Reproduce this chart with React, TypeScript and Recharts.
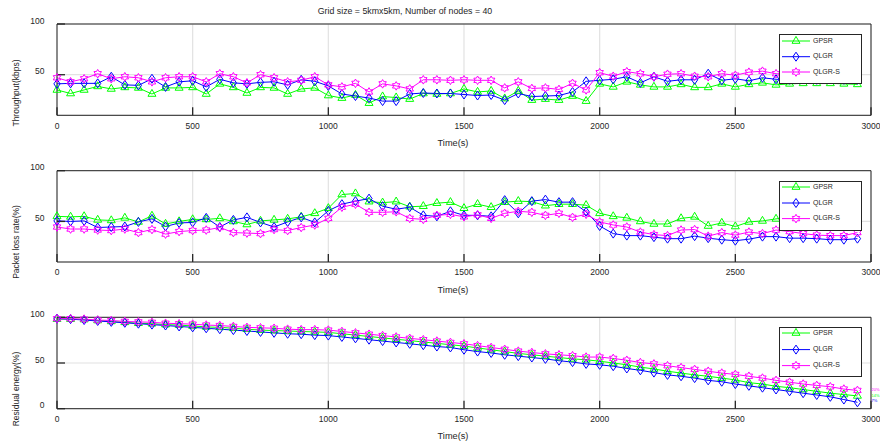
import React from 'react';
import { LineChart, Line, XAxis, YAxis, CartesianGrid } from 'recharts';

const FONT = '"Liberation Sans", Arial, Helvetica, sans-serif';
const TXT = '#262626';

const times = [
  0, 50, 100, 150, 200, 250, 300, 350, 400, 450,
  500, 550, 600, 650, 700, 750, 800, 850, 900, 950,
  1000, 1050, 1100, 1150, 1200, 1250, 1300, 1350, 1400, 1450,
  1500, 1550, 1600, 1650, 1700, 1750, 1800, 1850, 1900, 1950,
  2000, 2050, 2100, 2150, 2200, 2250, 2300, 2350, 2400, 2450,
  2500, 2550, 2600, 2650, 2700, 2750, 2800, 2850, 2900, 2950,
];

const xTicks = [0, 500, 1000, 1500, 2000, 2500, 3000];
const yTicksTop = [50, 100];
const yTicksBottom = [0, 50, 100];

const seriesNames = ['GPSR', 'QLGR', 'QLGR-S'];
const seriesColors = ['#00ff00', '#0000ff', '#ff00ff'];

// Throughput (kbps)
const thrGPSR = [
  35, 31.5, 35, 38.5, 36, 37.5, 37, 31, 37, 37,
  37.5, 31, 41, 37.5, 32, 37.5, 37, 31, 36, 37,
  29.5, 27, 30, 22, 28.5, 27.5, 26, 31.5, 31, 31.5,
  36, 33, 34, 26.5, 34, 25, 26, 25, 29, 24,
  41, 38, 43, 40, 38, 38, 40.5, 37.5, 37.5, 41,
  38, 40.5, 42, 40, 41, 41.5, 41.5, 41.5, 41, 40.5,
];
const thrQLGR = [
  41, 41.5, 41.5, 41.5, 48, 40, 39.5, 46, 38, 43,
  44, 38, 45.5, 42, 41, 42.5, 43, 40, 45, 43.5,
  39, 31, 29, 27, 24, 24, 31, 32, 31.5, 31.5,
  30.5, 29.5, 30, 25, 31.5, 28.5, 29, 29.5, 33, 43.5,
  44.5, 45.5, 48, 42, 48, 43.5, 45, 45, 51, 44.5,
  46, 44, 47, 45.5, 45, 46, 45, 46, 45, 45,
];
const thrQLGRS = [
  47, 43, 46, 51, 46, 48, 47, 43, 47, 48,
  48, 43, 51, 48, 42, 50, 47, 43, 44.5, 48,
  40, 38, 41.5, 33, 41, 39, 36, 45, 45, 44.5,
  45, 44.5, 44.5, 37, 43, 36.5, 37, 35.5, 41.5, 35,
  52, 48.5, 53, 51, 48, 50.5, 51, 48.5, 48, 51,
  49.5, 52.5, 53.5, 51, 50, 51, 52, 50, 49, 50,
];

// Packet loss rate (%)
const plGPSR = [
  55, 54.5, 55, 51.5, 51, 53.5, 49.5, 55.5, 47.5, 50,
  52, 52, 53, 50, 47, 50.5, 51.5, 52.5, 54.5, 58,
  63, 76.5, 77.5, 69.5, 68.5, 69.5, 64.5, 65, 68, 69,
  63, 67, 64, 69, 70, 69.5, 65.5, 67, 67, 66,
  58, 55, 53.5, 50, 47.5, 47.5, 53, 54.5, 45.5, 48.5,
  45, 49.5, 50.5, 52.5, 54, 55, 55, 54, 54, 55,
];
const plQLGR = [
  50.5, 50, 50.5, 44, 44.5, 45, 49.5, 52.5, 45, 48.5,
  49, 53.5, 44.5, 51.5, 54, 49, 44.5, 49.5, 54, 49,
  60.5, 67, 70, 72.5, 65, 62, 64, 56, 55, 60,
  56, 56, 55, 71, 58, 70, 71.5, 69, 69, 59.5,
  45.5, 38, 36, 36, 34.5, 33, 33, 35.5, 33.5, 32,
  31, 32.5, 35, 35, 33.5, 33.5, 33, 32, 32, 33,
];
const plQLGRS = [
  44.5, 42.5, 42.5, 41.5, 41, 42.5, 39, 42, 37.5, 40,
  41, 41.5, 44, 39, 38.5, 38, 42, 41, 44, 46.5,
  53, 64, 67, 59, 59, 59.5, 53, 52, 56, 57,
  54.5, 56.5, 53, 58, 60, 59, 56, 58, 54, 57,
  49.5, 46.5, 44.5, 39.5, 37, 36, 41.5, 42, 35.5, 39,
  36.5, 39.5, 38, 41.5, 40, 38, 36.5, 36, 36, 39,
];

// Residual energy (%)
const reGPSR = [
  98, 98, 97.5, 96.5, 95.5, 94.5, 93.5, 93, 92, 91.5,
  90.5, 89.5, 89, 88, 87, 86, 85.5, 85, 84.5, 84,
  83.5, 82, 80.5, 79, 77.5, 76, 74.5, 73, 71.5, 70,
  68.5, 66.5, 64.5, 62.5, 60.5, 59, 57.5, 56, 54.5, 53.5,
  52, 50, 48, 45.5, 43.5, 41, 39, 37, 35.5, 33.5,
  31.5, 28.5, 27, 24.5, 23, 21, 19, 17, 15.5, 14,
];
const reQLGR = [
  98.5, 98, 97, 96, 95, 94, 93, 92, 91, 90,
  89, 88, 87, 86, 85, 84, 83, 82, 81.5, 80.5,
  80, 78.5, 77, 75.5, 74, 72.5, 71, 69.5, 68, 67,
  64.5, 62.5, 61, 59, 57.5, 56, 54.5, 52.5, 51, 49,
  48, 46.5, 44, 42, 39.5, 37, 35.5, 33.5, 31, 29.5,
  27, 25, 23, 21, 19, 17, 15, 13, 10, 7,
];
const reQLGRS = [
  98.5, 98.5, 98, 97, 96.5, 95.5, 95, 94.5, 93.5, 93,
  92.5, 91.5, 91, 90, 89, 88.5, 88, 87, 86.5, 86.5,
  86, 84.5, 83, 81.5, 80, 78.5, 77, 75.5, 74, 72.5,
  71, 69, 67, 65, 63, 61.5, 60, 59, 58, 56.5,
  56.5, 55, 53, 50.5, 49, 47, 45, 43, 41, 39,
  37.5, 35.5, 33.5, 31, 29, 27, 25.5, 24, 21.5, 20,
];

const endLabels = ['14%', '7%', '20%'];

const buildRows = (a: number[], b: number[], c: number[]) =>
  times.map((t, i) => ({ t, s0: a[i], s1: b[i], s2: c[i] }));

const thrRows = buildRows(thrGPSR, thrQLGR, thrQLGRS);
const plRows = buildRows(plGPSR, plQLGR, plQLGRS);
const reRows = buildRows(reGPSR, reQLGR, reQLGRS);

function Marker({ kind, cx, cy, color }: { kind: number; cx: number; cy: number; color: string }) {
  if (cx == null || cy == null || isNaN(cx) || isNaN(cy)) return null;
  if (kind === 0) {
    const r = 4.6;
    const pts = `${cx},${cy - r} ${cx + r * 0.866},${cy + r / 2} ${cx - r * 0.866},${cy + r / 2}`;
    return <polygon points={pts} fill="none" stroke={color} strokeWidth={1} />;
  }
  if (kind === 1) {
    const pts = `${cx},${cy - 4.5} ${cx + 3.1},${cy} ${cx},${cy + 4.5} ${cx - 3.1},${cy}`;
    return <polygon points={pts} fill="none" stroke={color} strokeWidth={1} />;
  }
  const R = 4.3;
  const r = R / Math.sqrt(3);
  const p: string[] = [];
  for (let k = 0; k < 12; k++) {
    const ang = (-90 + k * 30) * (Math.PI / 180);
    const rad = k % 2 === 0 ? R : r;
    p.push(`${cx + rad * Math.cos(ang)},${cy + rad * Math.sin(ang)}`);
  }
  return <polygon points={p.join(' ')} fill="none" stroke={color} strokeWidth={1} />;
}

const XTick = (p: any) => (
  <text
    x={p.x}
    y={p.y}
    textAnchor="middle"
    dominantBaseline="central"
    fontSize={8.5}
    fontFamily={FONT}
    fill={TXT}
  >
    {p.payload.value}
  </text>
);

const YTick = (p: any) => (
  <text
    x={p.x}
    y={p.y - 3.3}
    textAnchor="end"
    dominantBaseline="central"
    fontSize={8.5}
    fontFamily={FONT}
    fill={TXT}
  >
    {p.payload.value}
  </text>
);

type PanelProps = {
  top: number;
  height: number;
  mTop: number;
  mBottom: number;
  rows: any[];
  yDomain: [number, number];
  yTicks: number[];
};

function Panel({ top, height, mTop, mBottom, rows, yDomain, yTicks }: PanelProps) {
  return (
    <div style={{ position: 'absolute', left: 0, top, width: 880, height }}>
      <LineChart
        width={880}
        height={height}
        data={rows}
        margin={{ top: mTop, right: 8, bottom: mBottom, left: 56 }}
      >
        <CartesianGrid stroke="#e2e2e2" strokeWidth={1.2} />
        <XAxis
          dataKey="t"
          type="number"
          domain={[0, 3000]}
          ticks={xTicks}
          interval={0}
          height={20}
          tickSize={-8}
          tickMargin={18.3}
          axisLine={{ stroke: TXT, strokeWidth: 1 }}
          tickLine={{ stroke: TXT, strokeWidth: 1.3 }}
          tick={XTick}
        />
        <XAxis
          xAxisId="top"
          orientation="top"
          dataKey="t"
          type="number"
          domain={[0, 3000]}
          ticks={xTicks}
          interval={0}
          height={1}
          tickSize={-8}
          axisLine={{ stroke: TXT, strokeWidth: 1 }}
          tickLine={{ stroke: TXT, strokeWidth: 1.3 }}
          tick={false}
        />
        <YAxis
          type="number"
          domain={yDomain}
          ticks={yTicks}
          interval={0}
          width={1}
          tickSize={-8}
          tickMargin={20.5}
          axisLine={{ stroke: TXT, strokeWidth: 1 }}
          tickLine={{ stroke: TXT, strokeWidth: 1.3 }}
          tick={YTick}
        />
        <YAxis
          yAxisId="r"
          orientation="right"
          type="number"
          domain={yDomain}
          ticks={yTicks}
          interval={0}
          width={1}
          tickSize={-8}
          axisLine={{ stroke: TXT, strokeWidth: 1 }}
          tickLine={{ stroke: TXT, strokeWidth: 1.3 }}
          tick={false}
        />
        {[0, 1, 2].map((k) => (
          <Line
            key={k}
            dataKey={`s${k}`}
            stroke={seriesColors[k]}
            strokeWidth={1}
            isAnimationActive={false}
            dot={(dp: any) => (
              <Marker key={`d${k}-${dp.index}`} kind={k} cx={dp.cx} cy={dp.cy} color={seriesColors[k]} />
            )}
            activeDot={false}
          />
        ))}
      </LineChart>
    </div>
  );
}

function LegendBox({ left, top, rowYs }: { left: number; top: number; rowYs: number[] }) {
  return (
    <svg
      width={84}
      height={51}
      style={{ position: 'absolute', left, top, overflow: 'visible' }}
    >
      <rect x={0.5} y={0.5} width={82} height={49} fill="#ffffff" stroke={TXT} strokeWidth={1} />
      {seriesNames.map((n, k) => (
        <g key={n}>
          <line x1={3} x2={31} y1={rowYs[k]} y2={rowYs[k]} stroke={seriesColors[k]} strokeWidth={1} />
          <Marker kind={k} cx={17} cy={rowYs[k]} color={seriesColors[k]} />
          <text
            x={34}
            y={rowYs[k] - 1}
            fontSize={7}
            fontFamily={FONT}
            fill={TXT}
            dominantBaseline="central"
          >
            {n}
          </text>
        </g>
      ))}
    </svg>
  );
}

export default function App() {
  return (
    <div
      style={{
        position: 'absolute',
        left: 0,
        top: 0,
        width: 880,
        height: 445,
        background: '#ffffff',
        overflow: 'hidden',
      }}
    >
      <Panel top={0} height={148} mTop={23} mBottom={12.7} rows={thrRows} yDomain={[10, 100]} yTicks={yTicksTop} />
      <Panel top={148} height={148} mTop={21.7} mBottom={14} rows={plRows} yDomain={[10, 100]} yTicks={yTicksTop} />
      <Panel top={296} height={149} mTop={20.3} mBottom={16.3} rows={reRows} yDomain={[0, 100]} yTicks={yTicksBottom} />

      <LegendBox left={779} top={34} rowYs={[7, 22.7, 38]} />
      <LegendBox left={779} top={180.7} rowYs={[6, 22, 37.6]} />
      <LegendBox left={779} top={326.7} rowYs={[6, 22.6, 38.6]} />

      <svg
        width={880}
        height={445}
        style={{ position: 'absolute', left: 0, top: 0, pointerEvents: 'none' }}
      >
        <text x={405} y={11} textAnchor="middle" dominantBaseline="central" fontSize={8.8} fontFamily={FONT} fill={TXT}>
          Grid size = 5kmx5km, Number of nodes = 40
        </text>
        <text x={453} y={143} textAnchor="middle" dominantBaseline="central" fontSize={9.2} fontFamily={FONT} fill={TXT}>
          Time(s)
        </text>
        <text x={453} y={290} textAnchor="middle" dominantBaseline="central" fontSize={9.2} fontFamily={FONT} fill={TXT}>
          Time(s)
        </text>
        <text x={453} y={436} textAnchor="middle" dominantBaseline="central" fontSize={9.2} fontFamily={FONT} fill={TXT}>
          Time(s)
        </text>
        <text transform="translate(16,93) rotate(-90)" textAnchor="middle" dominantBaseline="central" fontSize={8.5} fontFamily={FONT} fill={TXT}>
          Throughput(kbps)
        </text>
        <text transform="translate(16,242) rotate(-90)" textAnchor="middle" dominantBaseline="central" fontSize={8.5} fontFamily={FONT} fill={TXT}>
          Packet loss rate(%)
        </text>
        <text transform="translate(16,389) rotate(-90)" textAnchor="middle" dominantBaseline="central" fontSize={8.5} fontFamily={FONT} fill={TXT}>
          Residual energy(%)
        </text>
        <text x={871.5} y={389.3} dominantBaseline="central" fontSize={4} fontFamily={FONT} fill={seriesColors[2]}>
          {endLabels[2]}
        </text>
        <text x={871.5} y={395} dominantBaseline="central" fontSize={4} fontFamily={FONT} fill={seriesColors[0]}>
          {endLabels[0]}
        </text>
        <text x={871.5} y={400.7} dominantBaseline="central" fontSize={4} fontFamily={FONT} fill={seriesColors[1]}>
          {endLabels[1]}
        </text>
      </svg>
    </div>
  );
}
